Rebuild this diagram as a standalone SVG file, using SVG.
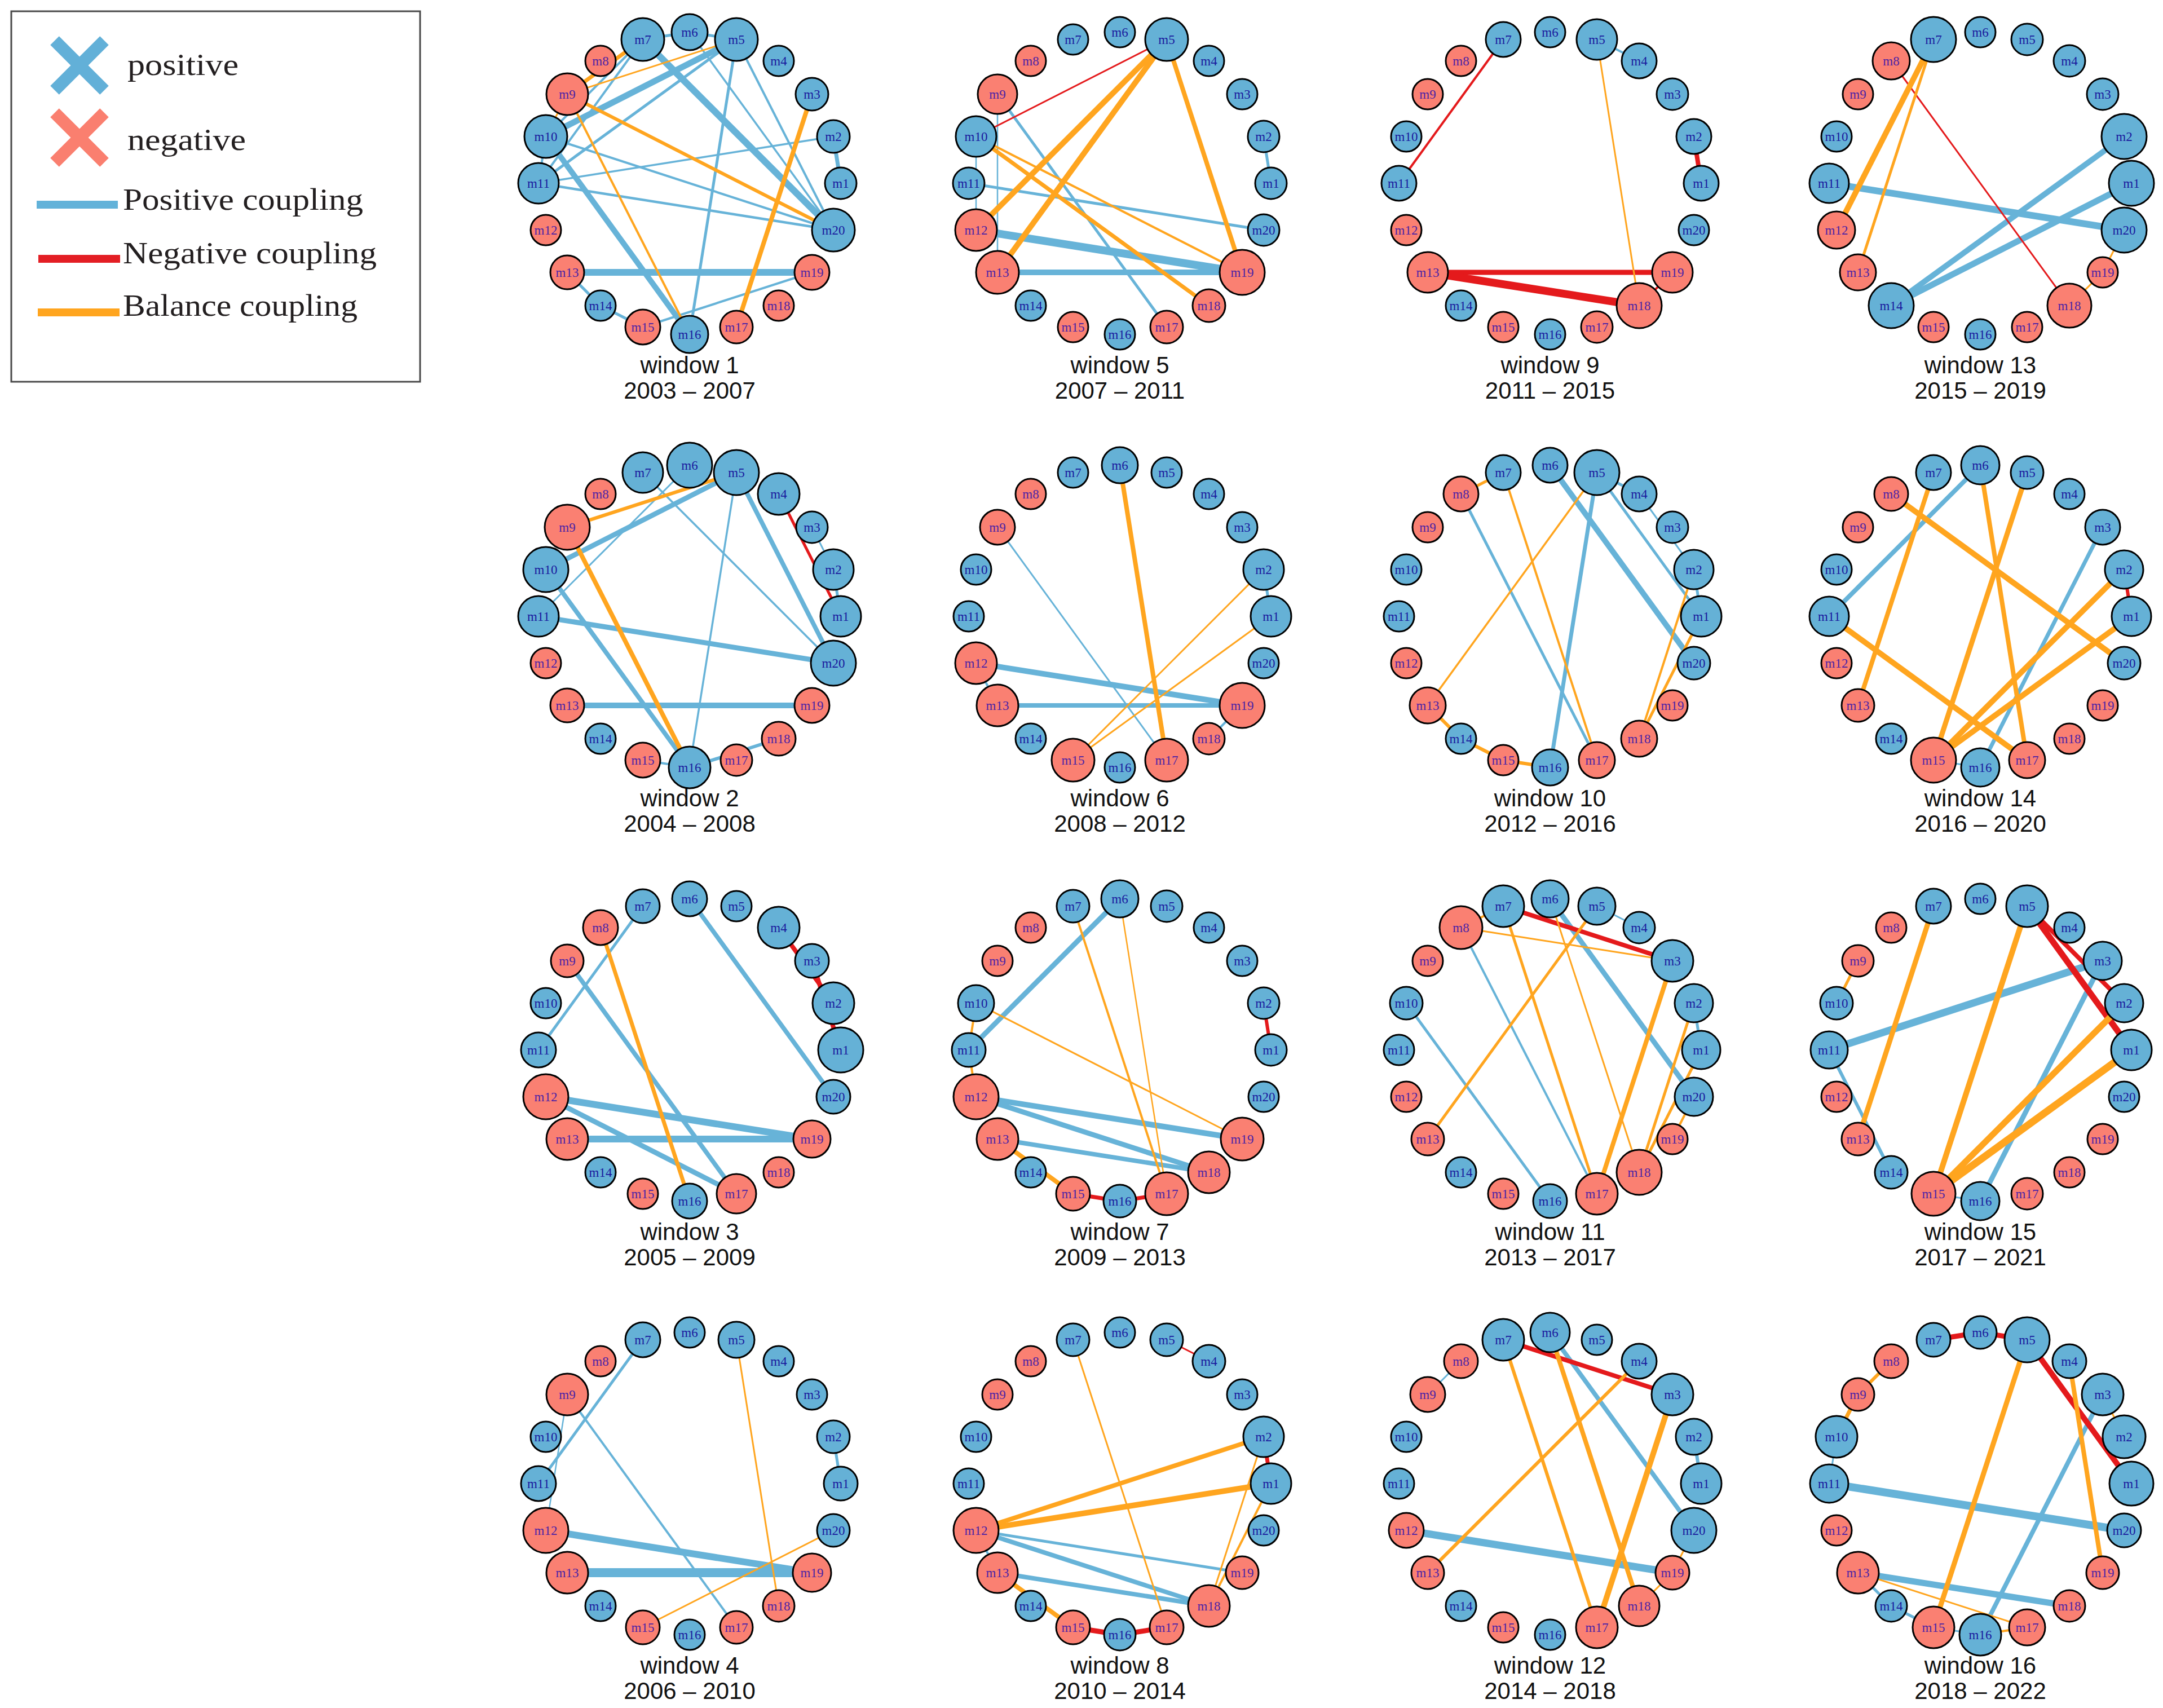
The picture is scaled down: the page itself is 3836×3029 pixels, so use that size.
<svg xmlns="http://www.w3.org/2000/svg" width="3836" height="3029" viewBox="0 0 3836 3029">
<style>
.eb{stroke:#67b3d8;fill:none}
.er{stroke:#e41a1c;fill:none}
.eo{stroke:#ffa51f;fill:none}
.nb circle{fill:#65b1d6;stroke:#000;stroke-width:3}
.nr circle{fill:#fa8072;stroke:#000;stroke-width:3}
.nb text,.nr text{font-family:'Liberation Serif','Times New Roman',serif;font-size:23px;text-anchor:middle}
.nb text{fill:#1a1a9e}
.nr text{fill:#4b22a6}
.t1,.t2{font-family:'Liberation Sans',Arial,sans-serif;font-size:42px;text-anchor:middle;fill:#111}
.lg{font-family:'Liberation Serif','Times New Roman',serif;font-size:54px;fill:#231f20}
</style>
<rect width="3836" height="3029" fill="#fff"/>
<g id="legend">
<rect x="20" y="20" width="725" height="657" fill="none" stroke="#4a4a4a" stroke-width="3"/>
<g stroke="#62b0d8" stroke-width="22"><line x1="97" y1="72" x2="185" y2="160"/><line x1="185" y1="72" x2="97" y2="160"/></g>
<g stroke="#fa7f6f" stroke-width="22"><line x1="97" y1="200" x2="185" y2="288"/><line x1="185" y1="200" x2="97" y2="288"/></g>
<text class="lg" x="226" y="133" textLength="197" lengthAdjust="spacingAndGlyphs">positive</text>
<text class="lg" x="226" y="266" textLength="210" lengthAdjust="spacingAndGlyphs">negative</text>
<line x1="65" y1="363" x2="209" y2="363" stroke="#62b2d9" stroke-width="14"/>
<line x1="68" y1="459" x2="213" y2="459" stroke="#e31e24" stroke-width="14"/>
<line x1="67" y1="554" x2="212" y2="554" stroke="#ffa51f" stroke-width="14"/>
<text class="lg" x="218" y="372" textLength="426" lengthAdjust="spacingAndGlyphs">Positive coupling</text>
<text class="lg" x="218" y="467" textLength="450" lengthAdjust="spacingAndGlyphs">Negative coupling</text>
<text class="lg" x="218" y="560" textLength="416" lengthAdjust="spacingAndGlyphs">Balance coupling</text>
</g>

<g id="window1" transform="translate(1223,325)">
<g id="w1-connectors">
<line class="eb" x1="-83" y1="-255" x2="0" y2="-268" stroke-width="5"/>
<line class="eb" x1="0" y1="-268" x2="83" y2="-255" stroke-width="5"/>
<line class="eb" x1="-83" y1="-255" x2="-255" y2="-83" stroke-width="4"/>
<line class="eb" x1="-83" y1="-255" x2="-268" y2="0" stroke-width="4"/>
<line class="eb" x1="83" y1="-255" x2="-255" y2="-83" stroke-width="11"/>
<line class="eb" x1="83" y1="-255" x2="-268" y2="0" stroke-width="5"/>
<line class="eb" x1="-83" y1="-255" x2="255" y2="83" stroke-width="12"/>
<line class="eb" x1="0" y1="-268" x2="255" y2="83" stroke-width="3.5"/>
<line class="eb" x1="83" y1="-255" x2="255" y2="83" stroke-width="4"/>
<line class="eb" x1="83" y1="-255" x2="0" y2="268" stroke-width="5"/>
<line class="eb" x1="-255" y1="-83" x2="-268" y2="0" stroke-width="4"/>
<line class="eb" x1="-255" y1="-83" x2="0" y2="268" stroke-width="10"/>
<line class="eb" x1="-255" y1="-83" x2="255" y2="83" stroke-width="4"/>
<line class="eb" x1="-268" y1="0" x2="255" y2="83" stroke-width="4.5"/>
<line class="eb" x1="-268" y1="0" x2="255" y2="-83" stroke-width="3.5"/>
<line class="eb" x1="255" y1="-83" x2="268" y2="0" stroke-width="7"/>
<line class="eb" x1="-217" y1="158" x2="217" y2="158" stroke-width="12"/>
<line class="eb" x1="-217" y1="158" x2="-158" y2="217" stroke-width="5"/>
<line class="eb" x1="-158" y1="217" x2="-83" y2="255" stroke-width="5"/>
<line class="eb" x1="-83" y1="255" x2="217" y2="158" stroke-width="4"/>
<line class="eo" x1="-217" y1="-158" x2="-83" y2="-255" stroke-width="7"/>
<line class="eo" x1="-217" y1="-158" x2="83" y2="-255" stroke-width="3"/>
<line class="eo" x1="-217" y1="-158" x2="255" y2="83" stroke-width="6"/>
<line class="eo" x1="-217" y1="-158" x2="0" y2="268" stroke-width="4"/>
<line class="eo" x1="-217" y1="-158" x2="-255" y2="-83" stroke-width="3"/>
<line class="eo" x1="217" y1="-158" x2="83" y2="255" stroke-width="8"/>
</g>
<g id="w1-m1" class="nb"><circle cx="268" cy="0" r="28"/><text x="268" y="8">m1</text></g>
<g id="w1-m2" class="nb"><circle cx="255" cy="-83" r="29"/><text x="255" y="-75">m2</text></g>
<g id="w1-m3" class="nb"><circle cx="217" cy="-158" r="29"/><text x="217" y="-150">m3</text></g>
<g id="w1-m4" class="nb"><circle cx="158" cy="-217" r="27"/><text x="158" y="-209">m4</text></g>
<g id="w1-m5" class="nb"><circle cx="83" cy="-255" r="38"/><text x="83" y="-247">m5</text></g>
<g id="w1-m6" class="nb"><circle cx="0" cy="-268" r="32"/><text x="0" y="-260">m6</text></g>
<g id="w1-m7" class="nb"><circle cx="-83" cy="-255" r="38"/><text x="-83" y="-247">m7</text></g>
<g id="w1-m8" class="nr"><circle cx="-158" cy="-217" r="27"/><text x="-158" y="-209">m8</text></g>
<g id="w1-m9" class="nr"><circle cx="-217" cy="-158" r="37"/><text x="-217" y="-150">m9</text></g>
<g id="w1-m10" class="nb"><circle cx="-255" cy="-83" r="38"/><text x="-255" y="-75">m10</text></g>
<g id="w1-m11" class="nb"><circle cx="-268" cy="0" r="36"/><text x="-268" y="8">m11</text></g>
<g id="w1-m12" class="nr"><circle cx="-255" cy="83" r="27"/><text x="-255" y="91">m12</text></g>
<g id="w1-m13" class="nr"><circle cx="-217" cy="158" r="30"/><text x="-217" y="166">m13</text></g>
<g id="w1-m14" class="nb"><circle cx="-158" cy="217" r="27"/><text x="-158" y="225">m14</text></g>
<g id="w1-m15" class="nr"><circle cx="-83" cy="255" r="31"/><text x="-83" y="263">m15</text></g>
<g id="w1-m16" class="nb"><circle cx="0" cy="268" r="33"/><text x="0" y="276">m16</text></g>
<g id="w1-m17" class="nr"><circle cx="83" cy="255" r="29"/><text x="83" y="263">m17</text></g>
<g id="w1-m18" class="nr"><circle cx="158" cy="217" r="27"/><text x="158" y="225">m18</text></g>
<g id="w1-m19" class="nr"><circle cx="217" cy="158" r="31"/><text x="217" y="166">m19</text></g>
<g id="w1-m20" class="nb"><circle cx="255" cy="83" r="38"/><text x="255" y="91">m20</text></g>
<text class="t1" x="0" y="337">window 1</text><text class="t2" x="0" y="382">2003 – 2007</text>
</g>

<g id="window2" transform="translate(1223,1093)">
<g id="w2-connectors">
<line class="eb" x1="-255" y1="-83" x2="83" y2="-255" stroke-width="9"/>
<line class="eb" x1="-268" y1="0" x2="0" y2="-268" stroke-width="3"/>
<line class="eb" x1="-83" y1="-255" x2="255" y2="83" stroke-width="3.5"/>
<line class="eb" x1="83" y1="-255" x2="255" y2="83" stroke-width="8"/>
<line class="eb" x1="83" y1="-255" x2="0" y2="268" stroke-width="3.5"/>
<line class="eb" x1="217" y1="-158" x2="255" y2="-83" stroke-width="3"/>
<line class="eb" x1="255" y1="-83" x2="268" y2="0" stroke-width="5"/>
<line class="eb" x1="-255" y1="-83" x2="0" y2="268" stroke-width="8"/>
<line class="eb" x1="-268" y1="0" x2="255" y2="83" stroke-width="9"/>
<line class="eb" x1="-217" y1="158" x2="217" y2="158" stroke-width="10"/>
<line class="eb" x1="0" y1="268" x2="158" y2="217" stroke-width="6"/>
<line class="eb" x1="-83" y1="255" x2="0" y2="268" stroke-width="4"/>
<line class="er" x1="158" y1="-217" x2="268" y2="0" stroke-width="5"/>
<line class="eo" x1="-217" y1="-158" x2="83" y2="-255" stroke-width="6"/>
<line class="eo" x1="-217" y1="-158" x2="0" y2="268" stroke-width="8"/>
</g>
<g id="w2-m1" class="nb"><circle cx="268" cy="0" r="36"/><text x="268" y="8">m1</text></g>
<g id="w2-m2" class="nb"><circle cx="255" cy="-83" r="36"/><text x="255" y="-75">m2</text></g>
<g id="w2-m3" class="nb"><circle cx="217" cy="-158" r="28"/><text x="217" y="-150">m3</text></g>
<g id="w2-m4" class="nb"><circle cx="158" cy="-217" r="37"/><text x="158" y="-209">m4</text></g>
<g id="w2-m5" class="nb"><circle cx="83" cy="-255" r="40"/><text x="83" y="-247">m5</text></g>
<g id="w2-m6" class="nb"><circle cx="0" cy="-268" r="40"/><text x="0" y="-260">m6</text></g>
<g id="w2-m7" class="nb"><circle cx="-83" cy="-255" r="36"/><text x="-83" y="-247">m7</text></g>
<g id="w2-m8" class="nr"><circle cx="-158" cy="-217" r="27"/><text x="-158" y="-209">m8</text></g>
<g id="w2-m9" class="nr"><circle cx="-217" cy="-158" r="40"/><text x="-217" y="-150">m9</text></g>
<g id="w2-m10" class="nb"><circle cx="-255" cy="-83" r="40"/><text x="-255" y="-75">m10</text></g>
<g id="w2-m11" class="nb"><circle cx="-268" cy="0" r="36"/><text x="-268" y="8">m11</text></g>
<g id="w2-m12" class="nr"><circle cx="-255" cy="83" r="27"/><text x="-255" y="91">m12</text></g>
<g id="w2-m13" class="nr"><circle cx="-217" cy="158" r="30"/><text x="-217" y="166">m13</text></g>
<g id="w2-m14" class="nb"><circle cx="-158" cy="217" r="27"/><text x="-158" y="225">m14</text></g>
<g id="w2-m15" class="nr"><circle cx="-83" cy="255" r="31"/><text x="-83" y="263">m15</text></g>
<g id="w2-m16" class="nb"><circle cx="0" cy="268" r="37"/><text x="0" y="276">m16</text></g>
<g id="w2-m17" class="nr"><circle cx="83" cy="255" r="28"/><text x="83" y="263">m17</text></g>
<g id="w2-m18" class="nr"><circle cx="158" cy="217" r="30"/><text x="158" y="225">m18</text></g>
<g id="w2-m19" class="nr"><circle cx="217" cy="158" r="31"/><text x="217" y="166">m19</text></g>
<g id="w2-m20" class="nb"><circle cx="255" cy="83" r="40"/><text x="255" y="91">m20</text></g>
<text class="t1" x="0" y="337">window 2</text><text class="t2" x="0" y="382">2004 – 2008</text>
</g>

<g id="window3" transform="translate(1223,1862)">
<g id="w3-connectors">
<line class="eb" x1="-83" y1="-255" x2="-268" y2="0" stroke-width="5"/>
<line class="eb" x1="-217" y1="-158" x2="83" y2="255" stroke-width="8"/>
<line class="eb" x1="0" y1="-268" x2="255" y2="83" stroke-width="8"/>
<line class="eb" x1="-255" y1="83" x2="217" y2="158" stroke-width="12"/>
<line class="eb" x1="-217" y1="158" x2="217" y2="158" stroke-width="12"/>
<line class="eb" x1="-255" y1="83" x2="83" y2="255" stroke-width="9"/>
<line class="er" x1="158" y1="-217" x2="255" y2="-83" stroke-width="8"/>
<line class="er" x1="217" y1="-158" x2="268" y2="0" stroke-width="8"/>
<line class="eo" x1="-158" y1="-217" x2="0" y2="268" stroke-width="7"/>
</g>
<g id="w3-m1" class="nb"><circle cx="268" cy="0" r="40"/><text x="268" y="8">m1</text></g>
<g id="w3-m2" class="nb"><circle cx="255" cy="-83" r="37"/><text x="255" y="-75">m2</text></g>
<g id="w3-m3" class="nb"><circle cx="217" cy="-158" r="30"/><text x="217" y="-150">m3</text></g>
<g id="w3-m4" class="nb"><circle cx="158" cy="-217" r="37"/><text x="158" y="-209">m4</text></g>
<g id="w3-m5" class="nb"><circle cx="83" cy="-255" r="27"/><text x="83" y="-247">m5</text></g>
<g id="w3-m6" class="nb"><circle cx="0" cy="-268" r="31"/><text x="0" y="-260">m6</text></g>
<g id="w3-m7" class="nb"><circle cx="-83" cy="-255" r="30"/><text x="-83" y="-247">m7</text></g>
<g id="w3-m8" class="nr"><circle cx="-158" cy="-217" r="31"/><text x="-158" y="-209">m8</text></g>
<g id="w3-m9" class="nr"><circle cx="-217" cy="-158" r="29"/><text x="-217" y="-150">m9</text></g>
<g id="w3-m10" class="nb"><circle cx="-255" cy="-83" r="27"/><text x="-255" y="-75">m10</text></g>
<g id="w3-m11" class="nb"><circle cx="-268" cy="0" r="31"/><text x="-268" y="8">m11</text></g>
<g id="w3-m12" class="nr"><circle cx="-255" cy="83" r="40"/><text x="-255" y="91">m12</text></g>
<g id="w3-m13" class="nr"><circle cx="-217" cy="158" r="37"/><text x="-217" y="166">m13</text></g>
<g id="w3-m14" class="nb"><circle cx="-158" cy="217" r="27"/><text x="-158" y="225">m14</text></g>
<g id="w3-m15" class="nr"><circle cx="-83" cy="255" r="27"/><text x="-83" y="263">m15</text></g>
<g id="w3-m16" class="nb"><circle cx="0" cy="268" r="31"/><text x="0" y="276">m16</text></g>
<g id="w3-m17" class="nr"><circle cx="83" cy="255" r="35"/><text x="83" y="263">m17</text></g>
<g id="w3-m18" class="nr"><circle cx="158" cy="217" r="27"/><text x="158" y="225">m18</text></g>
<g id="w3-m19" class="nr"><circle cx="217" cy="158" r="33"/><text x="217" y="166">m19</text></g>
<g id="w3-m20" class="nb"><circle cx="255" cy="83" r="30"/><text x="255" y="91">m20</text></g>
<text class="t1" x="0" y="337">window 3</text><text class="t2" x="0" y="382">2005 – 2009</text>
</g>

<g id="window4" transform="translate(1223,2631)">
<g id="w4-connectors">
<line class="eb" x1="-83" y1="-255" x2="-268" y2="0" stroke-width="5"/>
<line class="eb" x1="-217" y1="-158" x2="-255" y2="83" stroke-width="2.5"/>
<line class="eb" x1="-217" y1="-158" x2="83" y2="255" stroke-width="4"/>
<line class="eb" x1="-255" y1="83" x2="217" y2="158" stroke-width="12"/>
<line class="eb" x1="-217" y1="158" x2="217" y2="158" stroke-width="16"/>
<line class="eb" x1="255" y1="-83" x2="268" y2="0" stroke-width="5"/>
<line class="eo" x1="83" y1="-255" x2="158" y2="217" stroke-width="3"/>
<line class="eo" x1="255" y1="83" x2="-83" y2="255" stroke-width="3"/>
</g>
<g id="w4-m1" class="nb"><circle cx="268" cy="0" r="30"/><text x="268" y="8">m1</text></g>
<g id="w4-m2" class="nb"><circle cx="255" cy="-83" r="29"/><text x="255" y="-75">m2</text></g>
<g id="w4-m3" class="nb"><circle cx="217" cy="-158" r="27"/><text x="217" y="-150">m3</text></g>
<g id="w4-m4" class="nb"><circle cx="158" cy="-217" r="27"/><text x="158" y="-209">m4</text></g>
<g id="w4-m5" class="nb"><circle cx="83" cy="-255" r="32"/><text x="83" y="-247">m5</text></g>
<g id="w4-m6" class="nb"><circle cx="0" cy="-268" r="27"/><text x="0" y="-260">m6</text></g>
<g id="w4-m7" class="nb"><circle cx="-83" cy="-255" r="31"/><text x="-83" y="-247">m7</text></g>
<g id="w4-m8" class="nr"><circle cx="-158" cy="-217" r="27"/><text x="-158" y="-209">m8</text></g>
<g id="w4-m9" class="nr"><circle cx="-217" cy="-158" r="37"/><text x="-217" y="-150">m9</text></g>
<g id="w4-m10" class="nb"><circle cx="-255" cy="-83" r="27"/><text x="-255" y="-75">m10</text></g>
<g id="w4-m11" class="nb"><circle cx="-268" cy="0" r="31"/><text x="-268" y="8">m11</text></g>
<g id="w4-m12" class="nr"><circle cx="-255" cy="83" r="40"/><text x="-255" y="91">m12</text></g>
<g id="w4-m13" class="nr"><circle cx="-217" cy="158" r="37"/><text x="-217" y="166">m13</text></g>
<g id="w4-m14" class="nb"><circle cx="-158" cy="217" r="27"/><text x="-158" y="225">m14</text></g>
<g id="w4-m15" class="nr"><circle cx="-83" cy="255" r="30"/><text x="-83" y="263">m15</text></g>
<g id="w4-m16" class="nb"><circle cx="0" cy="268" r="27"/><text x="0" y="276">m16</text></g>
<g id="w4-m17" class="nr"><circle cx="83" cy="255" r="29"/><text x="83" y="263">m17</text></g>
<g id="w4-m18" class="nr"><circle cx="158" cy="217" r="28"/><text x="158" y="225">m18</text></g>
<g id="w4-m19" class="nr"><circle cx="217" cy="158" r="34"/><text x="217" y="166">m19</text></g>
<g id="w4-m20" class="nb"><circle cx="255" cy="83" r="29"/><text x="255" y="91">m20</text></g>
<text class="t1" x="0" y="337">window 4</text><text class="t2" x="0" y="382">2006 – 2010</text>
</g>

<g id="window5" transform="translate(1986,325)">
<g id="w5-connectors">
<line class="eb" x1="-217" y1="-158" x2="83" y2="255" stroke-width="5"/>
<line class="eb" x1="-217" y1="-158" x2="-217" y2="158" stroke-width="2.5"/>
<line class="eb" x1="-255" y1="-83" x2="-255" y2="83" stroke-width="2.5"/>
<line class="eb" x1="-268" y1="0" x2="255" y2="83" stroke-width="5"/>
<line class="eb" x1="-255" y1="83" x2="217" y2="158" stroke-width="14"/>
<line class="eb" x1="-217" y1="158" x2="217" y2="158" stroke-width="10"/>
<line class="eb" x1="255" y1="-83" x2="268" y2="0" stroke-width="5"/>
<line class="er" x1="83" y1="-255" x2="-255" y2="-83" stroke-width="3"/>
<line class="eo" x1="83" y1="-255" x2="-255" y2="83" stroke-width="10"/>
<line class="eo" x1="83" y1="-255" x2="-217" y2="158" stroke-width="10"/>
<line class="eo" x1="83" y1="-255" x2="217" y2="158" stroke-width="8"/>
<line class="eo" x1="-255" y1="-83" x2="217" y2="158" stroke-width="4"/>
<line class="eo" x1="-255" y1="-83" x2="158" y2="217" stroke-width="7"/>
</g>
<g id="w5-m1" class="nb"><circle cx="268" cy="0" r="28"/><text x="268" y="8">m1</text></g>
<g id="w5-m2" class="nb"><circle cx="255" cy="-83" r="28"/><text x="255" y="-75">m2</text></g>
<g id="w5-m3" class="nb"><circle cx="217" cy="-158" r="27"/><text x="217" y="-150">m3</text></g>
<g id="w5-m4" class="nb"><circle cx="158" cy="-217" r="27"/><text x="158" y="-209">m4</text></g>
<g id="w5-m5" class="nb"><circle cx="83" cy="-255" r="38"/><text x="83" y="-247">m5</text></g>
<g id="w5-m6" class="nb"><circle cx="0" cy="-268" r="27"/><text x="0" y="-260">m6</text></g>
<g id="w5-m7" class="nb"><circle cx="-83" cy="-255" r="27"/><text x="-83" y="-247">m7</text></g>
<g id="w5-m8" class="nr"><circle cx="-158" cy="-217" r="27"/><text x="-158" y="-209">m8</text></g>
<g id="w5-m9" class="nr"><circle cx="-217" cy="-158" r="35"/><text x="-217" y="-150">m9</text></g>
<g id="w5-m10" class="nb"><circle cx="-255" cy="-83" r="36"/><text x="-255" y="-75">m10</text></g>
<g id="w5-m11" class="nb"><circle cx="-268" cy="0" r="28"/><text x="-268" y="8">m11</text></g>
<g id="w5-m12" class="nr"><circle cx="-255" cy="83" r="37"/><text x="-255" y="91">m12</text></g>
<g id="w5-m13" class="nr"><circle cx="-217" cy="158" r="38"/><text x="-217" y="166">m13</text></g>
<g id="w5-m14" class="nb"><circle cx="-158" cy="217" r="27"/><text x="-158" y="225">m14</text></g>
<g id="w5-m15" class="nr"><circle cx="-83" cy="255" r="27"/><text x="-83" y="263">m15</text></g>
<g id="w5-m16" class="nb"><circle cx="0" cy="268" r="27"/><text x="0" y="276">m16</text></g>
<g id="w5-m17" class="nr"><circle cx="83" cy="255" r="29"/><text x="83" y="263">m17</text></g>
<g id="w5-m18" class="nr"><circle cx="158" cy="217" r="29"/><text x="158" y="225">m18</text></g>
<g id="w5-m19" class="nr"><circle cx="217" cy="158" r="40"/><text x="217" y="166">m19</text></g>
<g id="w5-m20" class="nb"><circle cx="255" cy="83" r="28"/><text x="255" y="91">m20</text></g>
<text class="t1" x="0" y="337">window 5</text><text class="t2" x="0" y="382">2007 – 2011</text>
</g>

<g id="window6" transform="translate(1986,1093)">
<g id="w6-connectors">
<line class="eb" x1="-217" y1="-158" x2="83" y2="255" stroke-width="3"/>
<line class="eb" x1="-255" y1="83" x2="217" y2="158" stroke-width="10"/>
<line class="eb" x1="-217" y1="158" x2="217" y2="158" stroke-width="8"/>
<line class="eb" x1="-255" y1="83" x2="-217" y2="158" stroke-width="4"/>
<line class="eb" x1="217" y1="158" x2="158" y2="217" stroke-width="4"/>
<line class="eb" x1="255" y1="-83" x2="268" y2="0" stroke-width="5"/>
<line class="eo" x1="0" y1="-268" x2="83" y2="255" stroke-width="8"/>
<line class="eo" x1="-83" y1="255" x2="255" y2="-83" stroke-width="3"/>
<line class="eo" x1="-83" y1="255" x2="268" y2="0" stroke-width="3"/>
</g>
<g id="w6-m1" class="nb"><circle cx="268" cy="0" r="36"/><text x="268" y="8">m1</text></g>
<g id="w6-m2" class="nb"><circle cx="255" cy="-83" r="36"/><text x="255" y="-75">m2</text></g>
<g id="w6-m3" class="nb"><circle cx="217" cy="-158" r="27"/><text x="217" y="-150">m3</text></g>
<g id="w6-m4" class="nb"><circle cx="158" cy="-217" r="27"/><text x="158" y="-209">m4</text></g>
<g id="w6-m5" class="nb"><circle cx="83" cy="-255" r="27"/><text x="83" y="-247">m5</text></g>
<g id="w6-m6" class="nb"><circle cx="0" cy="-268" r="32"/><text x="0" y="-260">m6</text></g>
<g id="w6-m7" class="nb"><circle cx="-83" cy="-255" r="27"/><text x="-83" y="-247">m7</text></g>
<g id="w6-m8" class="nr"><circle cx="-158" cy="-217" r="27"/><text x="-158" y="-209">m8</text></g>
<g id="w6-m9" class="nr"><circle cx="-217" cy="-158" r="31"/><text x="-217" y="-150">m9</text></g>
<g id="w6-m10" class="nb"><circle cx="-255" cy="-83" r="27"/><text x="-255" y="-75">m10</text></g>
<g id="w6-m11" class="nb"><circle cx="-268" cy="0" r="27"/><text x="-268" y="8">m11</text></g>
<g id="w6-m12" class="nr"><circle cx="-255" cy="83" r="37"/><text x="-255" y="91">m12</text></g>
<g id="w6-m13" class="nr"><circle cx="-217" cy="158" r="37"/><text x="-217" y="166">m13</text></g>
<g id="w6-m14" class="nb"><circle cx="-158" cy="217" r="27"/><text x="-158" y="225">m14</text></g>
<g id="w6-m15" class="nr"><circle cx="-83" cy="255" r="38"/><text x="-83" y="263">m15</text></g>
<g id="w6-m16" class="nb"><circle cx="0" cy="268" r="27"/><text x="0" y="276">m16</text></g>
<g id="w6-m17" class="nr"><circle cx="83" cy="255" r="38"/><text x="83" y="263">m17</text></g>
<g id="w6-m18" class="nr"><circle cx="158" cy="217" r="28"/><text x="158" y="225">m18</text></g>
<g id="w6-m19" class="nr"><circle cx="217" cy="158" r="40"/><text x="217" y="166">m19</text></g>
<g id="w6-m20" class="nb"><circle cx="255" cy="83" r="27"/><text x="255" y="91">m20</text></g>
<text class="t1" x="0" y="337">window 6</text><text class="t2" x="0" y="382">2008 – 2012</text>
</g>

<g id="window7" transform="translate(1986,1862)">
<g id="w7-connectors">
<line class="eb" x1="0" y1="-268" x2="-268" y2="0" stroke-width="9"/>
<line class="eb" x1="-255" y1="83" x2="217" y2="158" stroke-width="10"/>
<line class="eb" x1="-255" y1="83" x2="158" y2="217" stroke-width="9"/>
<line class="eb" x1="-217" y1="158" x2="158" y2="217" stroke-width="8"/>
<line class="er" x1="255" y1="-83" x2="268" y2="0" stroke-width="6"/>
<line class="er" x1="-83" y1="255" x2="0" y2="268" stroke-width="7"/>
<line class="er" x1="0" y1="268" x2="83" y2="255" stroke-width="7"/>
<line class="eo" x1="-83" y1="-255" x2="83" y2="255" stroke-width="4"/>
<line class="eo" x1="0" y1="-268" x2="83" y2="255" stroke-width="2.5"/>
<line class="eo" x1="-255" y1="-83" x2="217" y2="158" stroke-width="3"/>
<line class="eo" x1="-255" y1="-83" x2="-268" y2="0" stroke-width="4"/>
<line class="eo" x1="-268" y1="0" x2="-255" y2="83" stroke-width="4"/>
<line class="eo" x1="-217" y1="158" x2="-83" y2="255" stroke-width="8"/>
</g>
<g id="w7-m1" class="nb"><circle cx="268" cy="0" r="28"/><text x="268" y="8">m1</text></g>
<g id="w7-m2" class="nb"><circle cx="255" cy="-83" r="28"/><text x="255" y="-75">m2</text></g>
<g id="w7-m3" class="nb"><circle cx="217" cy="-158" r="27"/><text x="217" y="-150">m3</text></g>
<g id="w7-m4" class="nb"><circle cx="158" cy="-217" r="27"/><text x="158" y="-209">m4</text></g>
<g id="w7-m5" class="nb"><circle cx="83" cy="-255" r="28"/><text x="83" y="-247">m5</text></g>
<g id="w7-m6" class="nb"><circle cx="0" cy="-268" r="33"/><text x="0" y="-260">m6</text></g>
<g id="w7-m7" class="nb"><circle cx="-83" cy="-255" r="29"/><text x="-83" y="-247">m7</text></g>
<g id="w7-m8" class="nr"><circle cx="-158" cy="-217" r="27"/><text x="-158" y="-209">m8</text></g>
<g id="w7-m9" class="nr"><circle cx="-217" cy="-158" r="27"/><text x="-217" y="-150">m9</text></g>
<g id="w7-m10" class="nb"><circle cx="-255" cy="-83" r="32"/><text x="-255" y="-75">m10</text></g>
<g id="w7-m11" class="nb"><circle cx="-268" cy="0" r="30"/><text x="-268" y="8">m11</text></g>
<g id="w7-m12" class="nr"><circle cx="-255" cy="83" r="40"/><text x="-255" y="91">m12</text></g>
<g id="w7-m13" class="nr"><circle cx="-217" cy="158" r="37"/><text x="-217" y="166">m13</text></g>
<g id="w7-m14" class="nb"><circle cx="-158" cy="217" r="27"/><text x="-158" y="225">m14</text></g>
<g id="w7-m15" class="nr"><circle cx="-83" cy="255" r="30"/><text x="-83" y="263">m15</text></g>
<g id="w7-m16" class="nb"><circle cx="0" cy="268" r="29"/><text x="0" y="276">m16</text></g>
<g id="w7-m17" class="nr"><circle cx="83" cy="255" r="38"/><text x="83" y="263">m17</text></g>
<g id="w7-m18" class="nr"><circle cx="158" cy="217" r="37"/><text x="158" y="225">m18</text></g>
<g id="w7-m19" class="nr"><circle cx="217" cy="158" r="38"/><text x="217" y="166">m19</text></g>
<g id="w7-m20" class="nb"><circle cx="255" cy="83" r="27"/><text x="255" y="91">m20</text></g>
<text class="t1" x="0" y="337">window 7</text><text class="t2" x="0" y="382">2009 – 2013</text>
</g>

<g id="window8" transform="translate(1986,2631)">
<g id="w8-connectors">
<line class="eb" x1="-255" y1="83" x2="217" y2="158" stroke-width="5"/>
<line class="eb" x1="-255" y1="83" x2="158" y2="217" stroke-width="8"/>
<line class="eb" x1="-217" y1="158" x2="158" y2="217" stroke-width="8"/>
<line class="eb" x1="-255" y1="83" x2="-217" y2="158" stroke-width="4"/>
<line class="er" x1="83" y1="-255" x2="158" y2="-217" stroke-width="3"/>
<line class="er" x1="-83" y1="255" x2="0" y2="268" stroke-width="9"/>
<line class="er" x1="0" y1="268" x2="83" y2="255" stroke-width="9"/>
<line class="er" x1="255" y1="-83" x2="268" y2="0" stroke-width="7"/>
<line class="eo" x1="-83" y1="-255" x2="83" y2="255" stroke-width="3"/>
<line class="eo" x1="-255" y1="83" x2="255" y2="-83" stroke-width="8"/>
<line class="eo" x1="-255" y1="83" x2="268" y2="0" stroke-width="10"/>
<line class="eo" x1="-217" y1="158" x2="-83" y2="255" stroke-width="8"/>
<line class="eo" x1="255" y1="-83" x2="158" y2="217" stroke-width="3"/>
<line class="eo" x1="268" y1="0" x2="158" y2="217" stroke-width="4"/>
</g>
<g id="w8-m1" class="nb"><circle cx="268" cy="0" r="36"/><text x="268" y="8">m1</text></g>
<g id="w8-m2" class="nb"><circle cx="255" cy="-83" r="36"/><text x="255" y="-75">m2</text></g>
<g id="w8-m3" class="nb"><circle cx="217" cy="-158" r="27"/><text x="217" y="-150">m3</text></g>
<g id="w8-m4" class="nb"><circle cx="158" cy="-217" r="29"/><text x="158" y="-209">m4</text></g>
<g id="w8-m5" class="nb"><circle cx="83" cy="-255" r="29"/><text x="83" y="-247">m5</text></g>
<g id="w8-m6" class="nb"><circle cx="0" cy="-268" r="27"/><text x="0" y="-260">m6</text></g>
<g id="w8-m7" class="nb"><circle cx="-83" cy="-255" r="29"/><text x="-83" y="-247">m7</text></g>
<g id="w8-m8" class="nr"><circle cx="-158" cy="-217" r="27"/><text x="-158" y="-209">m8</text></g>
<g id="w8-m9" class="nr"><circle cx="-217" cy="-158" r="27"/><text x="-217" y="-150">m9</text></g>
<g id="w8-m10" class="nb"><circle cx="-255" cy="-83" r="27"/><text x="-255" y="-75">m10</text></g>
<g id="w8-m11" class="nb"><circle cx="-268" cy="0" r="27"/><text x="-268" y="8">m11</text></g>
<g id="w8-m12" class="nr"><circle cx="-255" cy="83" r="40"/><text x="-255" y="91">m12</text></g>
<g id="w8-m13" class="nr"><circle cx="-217" cy="158" r="36"/><text x="-217" y="166">m13</text></g>
<g id="w8-m14" class="nb"><circle cx="-158" cy="217" r="27"/><text x="-158" y="225">m14</text></g>
<g id="w8-m15" class="nr"><circle cx="-83" cy="255" r="30"/><text x="-83" y="263">m15</text></g>
<g id="w8-m16" class="nb"><circle cx="0" cy="268" r="28"/><text x="0" y="276">m16</text></g>
<g id="w8-m17" class="nr"><circle cx="83" cy="255" r="30"/><text x="83" y="263">m17</text></g>
<g id="w8-m18" class="nr"><circle cx="158" cy="217" r="37"/><text x="158" y="225">m18</text></g>
<g id="w8-m19" class="nr"><circle cx="217" cy="158" r="29"/><text x="217" y="166">m19</text></g>
<g id="w8-m20" class="nb"><circle cx="255" cy="83" r="27"/><text x="255" y="91">m20</text></g>
<text class="t1" x="0" y="337">window 8</text><text class="t2" x="0" y="382">2010 – 2014</text>
</g>

<g id="window9" transform="translate(2749,325)">
<g id="w9-connectors">
<line class="eb" x1="83" y1="-255" x2="158" y2="-217" stroke-width="4"/>
<line class="er" x1="-83" y1="-255" x2="-268" y2="0" stroke-width="4"/>
<line class="er" x1="255" y1="-83" x2="268" y2="0" stroke-width="8"/>
<line class="er" x1="-217" y1="158" x2="217" y2="158" stroke-width="9"/>
<line class="er" x1="-217" y1="158" x2="158" y2="217" stroke-width="14"/>
<line class="er" x1="217" y1="158" x2="158" y2="217" stroke-width="4"/>
<line class="eo" x1="83" y1="-255" x2="158" y2="217" stroke-width="3"/>
</g>
<g id="w9-m1" class="nb"><circle cx="268" cy="0" r="31"/><text x="268" y="8">m1</text></g>
<g id="w9-m2" class="nb"><circle cx="255" cy="-83" r="31"/><text x="255" y="-75">m2</text></g>
<g id="w9-m3" class="nb"><circle cx="217" cy="-158" r="28"/><text x="217" y="-150">m3</text></g>
<g id="w9-m4" class="nb"><circle cx="158" cy="-217" r="31"/><text x="158" y="-209">m4</text></g>
<g id="w9-m5" class="nb"><circle cx="83" cy="-255" r="36"/><text x="83" y="-247">m5</text></g>
<g id="w9-m6" class="nb"><circle cx="0" cy="-268" r="27"/><text x="0" y="-260">m6</text></g>
<g id="w9-m7" class="nb"><circle cx="-83" cy="-255" r="31"/><text x="-83" y="-247">m7</text></g>
<g id="w9-m8" class="nr"><circle cx="-158" cy="-217" r="27"/><text x="-158" y="-209">m8</text></g>
<g id="w9-m9" class="nr"><circle cx="-217" cy="-158" r="27"/><text x="-217" y="-150">m9</text></g>
<g id="w9-m10" class="nb"><circle cx="-255" cy="-83" r="27"/><text x="-255" y="-75">m10</text></g>
<g id="w9-m11" class="nb"><circle cx="-268" cy="0" r="31"/><text x="-268" y="8">m11</text></g>
<g id="w9-m12" class="nr"><circle cx="-255" cy="83" r="27"/><text x="-255" y="91">m12</text></g>
<g id="w9-m13" class="nr"><circle cx="-217" cy="158" r="36"/><text x="-217" y="166">m13</text></g>
<g id="w9-m14" class="nb"><circle cx="-158" cy="217" r="27"/><text x="-158" y="225">m14</text></g>
<g id="w9-m15" class="nr"><circle cx="-83" cy="255" r="27"/><text x="-83" y="263">m15</text></g>
<g id="w9-m16" class="nb"><circle cx="0" cy="268" r="27"/><text x="0" y="276">m16</text></g>
<g id="w9-m17" class="nr"><circle cx="83" cy="255" r="28"/><text x="83" y="263">m17</text></g>
<g id="w9-m18" class="nr"><circle cx="158" cy="217" r="40"/><text x="158" y="225">m18</text></g>
<g id="w9-m19" class="nr"><circle cx="217" cy="158" r="36"/><text x="217" y="166">m19</text></g>
<g id="w9-m20" class="nb"><circle cx="255" cy="83" r="27"/><text x="255" y="91">m20</text></g>
<text class="t1" x="0" y="337">window 9</text><text class="t2" x="0" y="382">2011 – 2015</text>
</g>

<g id="window10" transform="translate(2749,1093)">
<g id="w10-connectors">
<line class="eb" x1="-158" y1="-217" x2="83" y2="255" stroke-width="5"/>
<line class="eb" x1="83" y1="-255" x2="0" y2="268" stroke-width="7"/>
<line class="eb" x1="0" y1="-268" x2="255" y2="83" stroke-width="10"/>
<line class="eb" x1="83" y1="-255" x2="158" y2="-217" stroke-width="5"/>
<line class="eb" x1="83" y1="-255" x2="268" y2="0" stroke-width="5"/>
<line class="eb" x1="158" y1="-217" x2="255" y2="-83" stroke-width="3"/>
<line class="eb" x1="255" y1="-83" x2="268" y2="0" stroke-width="5"/>
<line class="eo" x1="-158" y1="-217" x2="-83" y2="-255" stroke-width="5"/>
<line class="eo" x1="-83" y1="-255" x2="83" y2="255" stroke-width="4"/>
<line class="eo" x1="-217" y1="158" x2="83" y2="-255" stroke-width="3.5"/>
<line class="eo" x1="-217" y1="158" x2="-158" y2="217" stroke-width="6"/>
<line class="eo" x1="-158" y1="217" x2="-83" y2="255" stroke-width="6"/>
<line class="eo" x1="-83" y1="255" x2="0" y2="268" stroke-width="6"/>
<line class="eo" x1="255" y1="-83" x2="158" y2="217" stroke-width="4"/>
<line class="eo" x1="268" y1="0" x2="158" y2="217" stroke-width="5"/>
</g>
<g id="w10-m1" class="nb"><circle cx="268" cy="0" r="36"/><text x="268" y="8">m1</text></g>
<g id="w10-m2" class="nb"><circle cx="255" cy="-83" r="35"/><text x="255" y="-75">m2</text></g>
<g id="w10-m3" class="nb"><circle cx="217" cy="-158" r="28"/><text x="217" y="-150">m3</text></g>
<g id="w10-m4" class="nb"><circle cx="158" cy="-217" r="31"/><text x="158" y="-209">m4</text></g>
<g id="w10-m5" class="nb"><circle cx="83" cy="-255" r="40"/><text x="83" y="-247">m5</text></g>
<g id="w10-m6" class="nb"><circle cx="0" cy="-268" r="31"/><text x="0" y="-260">m6</text></g>
<g id="w10-m7" class="nb"><circle cx="-83" cy="-255" r="31"/><text x="-83" y="-247">m7</text></g>
<g id="w10-m8" class="nr"><circle cx="-158" cy="-217" r="31"/><text x="-158" y="-209">m8</text></g>
<g id="w10-m9" class="nr"><circle cx="-217" cy="-158" r="27"/><text x="-217" y="-150">m9</text></g>
<g id="w10-m10" class="nb"><circle cx="-255" cy="-83" r="27"/><text x="-255" y="-75">m10</text></g>
<g id="w10-m11" class="nb"><circle cx="-268" cy="0" r="27"/><text x="-268" y="8">m11</text></g>
<g id="w10-m12" class="nr"><circle cx="-255" cy="83" r="27"/><text x="-255" y="91">m12</text></g>
<g id="w10-m13" class="nr"><circle cx="-217" cy="158" r="32"/><text x="-217" y="166">m13</text></g>
<g id="w10-m14" class="nb"><circle cx="-158" cy="217" r="27"/><text x="-158" y="225">m14</text></g>
<g id="w10-m15" class="nr"><circle cx="-83" cy="255" r="27"/><text x="-83" y="263">m15</text></g>
<g id="w10-m16" class="nb"><circle cx="0" cy="268" r="32"/><text x="0" y="276">m16</text></g>
<g id="w10-m17" class="nr"><circle cx="83" cy="255" r="32"/><text x="83" y="263">m17</text></g>
<g id="w10-m18" class="nr"><circle cx="158" cy="217" r="32"/><text x="158" y="225">m18</text></g>
<g id="w10-m19" class="nr"><circle cx="217" cy="158" r="27"/><text x="217" y="166">m19</text></g>
<g id="w10-m20" class="nb"><circle cx="255" cy="83" r="29"/><text x="255" y="91">m20</text></g>
<text class="t1" x="0" y="337">window 10</text><text class="t2" x="0" y="382">2012 – 2016</text>
</g>

<g id="window11" transform="translate(2749,1862)">
<g id="w11-connectors">
<line class="eb" x1="-158" y1="-217" x2="83" y2="255" stroke-width="4"/>
<line class="eb" x1="-255" y1="-83" x2="0" y2="268" stroke-width="5"/>
<line class="eb" x1="0" y1="-268" x2="255" y2="83" stroke-width="9"/>
<line class="eb" x1="83" y1="-255" x2="158" y2="-217" stroke-width="3"/>
<line class="eb" x1="255" y1="-83" x2="268" y2="0" stroke-width="5"/>
<line class="er" x1="-83" y1="-255" x2="217" y2="-158" stroke-width="8"/>
<line class="eo" x1="-158" y1="-217" x2="-83" y2="-255" stroke-width="4"/>
<line class="eo" x1="-158" y1="-217" x2="217" y2="-158" stroke-width="3"/>
<line class="eo" x1="-83" y1="-255" x2="83" y2="255" stroke-width="5"/>
<line class="eo" x1="0" y1="-268" x2="158" y2="217" stroke-width="3"/>
<line class="eo" x1="-217" y1="158" x2="83" y2="-255" stroke-width="5"/>
<line class="eo" x1="217" y1="-158" x2="83" y2="255" stroke-width="8"/>
<line class="eo" x1="255" y1="-83" x2="158" y2="217" stroke-width="5"/>
<line class="eo" x1="268" y1="0" x2="158" y2="217" stroke-width="5"/>
<line class="eo" x1="255" y1="83" x2="217" y2="158" stroke-width="4"/>
</g>
<g id="w11-m1" class="nb"><circle cx="268" cy="0" r="34"/><text x="268" y="8">m1</text></g>
<g id="w11-m2" class="nb"><circle cx="255" cy="-83" r="34"/><text x="255" y="-75">m2</text></g>
<g id="w11-m3" class="nb"><circle cx="217" cy="-158" r="37"/><text x="217" y="-150">m3</text></g>
<g id="w11-m4" class="nb"><circle cx="158" cy="-217" r="28"/><text x="158" y="-209">m4</text></g>
<g id="w11-m5" class="nb"><circle cx="83" cy="-255" r="33"/><text x="83" y="-247">m5</text></g>
<g id="w11-m6" class="nb"><circle cx="0" cy="-268" r="33"/><text x="0" y="-260">m6</text></g>
<g id="w11-m7" class="nb"><circle cx="-83" cy="-255" r="37"/><text x="-83" y="-247">m7</text></g>
<g id="w11-m8" class="nr"><circle cx="-158" cy="-217" r="38"/><text x="-158" y="-209">m8</text></g>
<g id="w11-m9" class="nr"><circle cx="-217" cy="-158" r="27"/><text x="-217" y="-150">m9</text></g>
<g id="w11-m10" class="nb"><circle cx="-255" cy="-83" r="29"/><text x="-255" y="-75">m10</text></g>
<g id="w11-m11" class="nb"><circle cx="-268" cy="0" r="27"/><text x="-268" y="8">m11</text></g>
<g id="w11-m12" class="nr"><circle cx="-255" cy="83" r="27"/><text x="-255" y="91">m12</text></g>
<g id="w11-m13" class="nr"><circle cx="-217" cy="158" r="29"/><text x="-217" y="166">m13</text></g>
<g id="w11-m14" class="nb"><circle cx="-158" cy="217" r="27"/><text x="-158" y="225">m14</text></g>
<g id="w11-m15" class="nr"><circle cx="-83" cy="255" r="27"/><text x="-83" y="263">m15</text></g>
<g id="w11-m16" class="nb"><circle cx="0" cy="268" r="30"/><text x="0" y="276">m16</text></g>
<g id="w11-m17" class="nr"><circle cx="83" cy="255" r="37"/><text x="83" y="263">m17</text></g>
<g id="w11-m18" class="nr"><circle cx="158" cy="217" r="40"/><text x="158" y="225">m18</text></g>
<g id="w11-m19" class="nr"><circle cx="217" cy="158" r="27"/><text x="217" y="166">m19</text></g>
<g id="w11-m20" class="nb"><circle cx="255" cy="83" r="34"/><text x="255" y="91">m20</text></g>
<text class="t1" x="0" y="337">window 11</text><text class="t2" x="0" y="382">2013 – 2017</text>
</g>

<g id="window12" transform="translate(2749,2631)">
<g id="w12-connectors">
<line class="eb" x1="-158" y1="-217" x2="-217" y2="-158" stroke-width="3"/>
<line class="eb" x1="0" y1="-268" x2="255" y2="83" stroke-width="8"/>
<line class="eb" x1="255" y1="-83" x2="268" y2="0" stroke-width="6"/>
<line class="eb" x1="-255" y1="83" x2="217" y2="158" stroke-width="13"/>
<line class="er" x1="-83" y1="-255" x2="217" y2="-158" stroke-width="8"/>
<line class="eo" x1="-83" y1="-255" x2="83" y2="255" stroke-width="6"/>
<line class="eo" x1="0" y1="-268" x2="158" y2="217" stroke-width="8"/>
<line class="eo" x1="158" y1="-217" x2="-217" y2="158" stroke-width="6"/>
<line class="eo" x1="217" y1="-158" x2="83" y2="255" stroke-width="10"/>
<line class="eo" x1="255" y1="83" x2="217" y2="158" stroke-width="3"/>
<line class="eo" x1="217" y1="158" x2="158" y2="217" stroke-width="3"/>
</g>
<g id="w12-m1" class="nb"><circle cx="268" cy="0" r="36"/><text x="268" y="8">m1</text></g>
<g id="w12-m2" class="nb"><circle cx="255" cy="-83" r="32"/><text x="255" y="-75">m2</text></g>
<g id="w12-m3" class="nb"><circle cx="217" cy="-158" r="37"/><text x="217" y="-150">m3</text></g>
<g id="w12-m4" class="nb"><circle cx="158" cy="-217" r="31"/><text x="158" y="-209">m4</text></g>
<g id="w12-m5" class="nb"><circle cx="83" cy="-255" r="27"/><text x="83" y="-247">m5</text></g>
<g id="w12-m6" class="nb"><circle cx="0" cy="-268" r="35"/><text x="0" y="-260">m6</text></g>
<g id="w12-m7" class="nb"><circle cx="-83" cy="-255" r="37"/><text x="-83" y="-247">m7</text></g>
<g id="w12-m8" class="nr"><circle cx="-158" cy="-217" r="30"/><text x="-158" y="-209">m8</text></g>
<g id="w12-m9" class="nr"><circle cx="-217" cy="-158" r="31"/><text x="-217" y="-150">m9</text></g>
<g id="w12-m10" class="nb"><circle cx="-255" cy="-83" r="27"/><text x="-255" y="-75">m10</text></g>
<g id="w12-m11" class="nb"><circle cx="-268" cy="0" r="27"/><text x="-268" y="8">m11</text></g>
<g id="w12-m12" class="nr"><circle cx="-255" cy="83" r="31"/><text x="-255" y="91">m12</text></g>
<g id="w12-m13" class="nr"><circle cx="-217" cy="158" r="29"/><text x="-217" y="166">m13</text></g>
<g id="w12-m14" class="nb"><circle cx="-158" cy="217" r="27"/><text x="-158" y="225">m14</text></g>
<g id="w12-m15" class="nr"><circle cx="-83" cy="255" r="27"/><text x="-83" y="263">m15</text></g>
<g id="w12-m16" class="nb"><circle cx="0" cy="268" r="27"/><text x="0" y="276">m16</text></g>
<g id="w12-m17" class="nr"><circle cx="83" cy="255" r="37"/><text x="83" y="263">m17</text></g>
<g id="w12-m18" class="nr"><circle cx="158" cy="217" r="36"/><text x="158" y="225">m18</text></g>
<g id="w12-m19" class="nr"><circle cx="217" cy="158" r="30"/><text x="217" y="166">m19</text></g>
<g id="w12-m20" class="nb"><circle cx="255" cy="83" r="40"/><text x="255" y="91">m20</text></g>
<text class="t1" x="0" y="337">window 12</text><text class="t2" x="0" y="382">2014 – 2018</text>
</g>

<g id="window13" transform="translate(3512,325)">
<g id="w13-connectors">
<line class="eb" x1="-268" y1="0" x2="255" y2="83" stroke-width="12"/>
<line class="eb" x1="-158" y1="217" x2="255" y2="-83" stroke-width="10"/>
<line class="eb" x1="-158" y1="217" x2="268" y2="0" stroke-width="11"/>
<line class="er" x1="-158" y1="-217" x2="158" y2="217" stroke-width="3"/>
<line class="eo" x1="-83" y1="-255" x2="-255" y2="83" stroke-width="10"/>
<line class="eo" x1="-83" y1="-255" x2="-217" y2="158" stroke-width="5"/>
<line class="eo" x1="255" y1="83" x2="217" y2="158" stroke-width="3"/>
<line class="eo" x1="217" y1="158" x2="158" y2="217" stroke-width="3"/>
</g>
<g id="w13-m1" class="nb"><circle cx="268" cy="0" r="40"/><text x="268" y="8">m1</text></g>
<g id="w13-m2" class="nb"><circle cx="255" cy="-83" r="40"/><text x="255" y="-75">m2</text></g>
<g id="w13-m3" class="nb"><circle cx="217" cy="-158" r="28"/><text x="217" y="-150">m3</text></g>
<g id="w13-m4" class="nb"><circle cx="158" cy="-217" r="28"/><text x="158" y="-209">m4</text></g>
<g id="w13-m5" class="nb"><circle cx="83" cy="-255" r="28"/><text x="83" y="-247">m5</text></g>
<g id="w13-m6" class="nb"><circle cx="0" cy="-268" r="27"/><text x="0" y="-260">m6</text></g>
<g id="w13-m7" class="nb"><circle cx="-83" cy="-255" r="40"/><text x="-83" y="-247">m7</text></g>
<g id="w13-m8" class="nr"><circle cx="-158" cy="-217" r="33"/><text x="-158" y="-209">m8</text></g>
<g id="w13-m9" class="nr"><circle cx="-217" cy="-158" r="27"/><text x="-217" y="-150">m9</text></g>
<g id="w13-m10" class="nb"><circle cx="-255" cy="-83" r="27"/><text x="-255" y="-75">m10</text></g>
<g id="w13-m11" class="nb"><circle cx="-268" cy="0" r="35"/><text x="-268" y="8">m11</text></g>
<g id="w13-m12" class="nr"><circle cx="-255" cy="83" r="33"/><text x="-255" y="91">m12</text></g>
<g id="w13-m13" class="nr"><circle cx="-217" cy="158" r="32"/><text x="-217" y="166">m13</text></g>
<g id="w13-m14" class="nb"><circle cx="-158" cy="217" r="40"/><text x="-158" y="225">m14</text></g>
<g id="w13-m15" class="nr"><circle cx="-83" cy="255" r="27"/><text x="-83" y="263">m15</text></g>
<g id="w13-m16" class="nb"><circle cx="0" cy="268" r="27"/><text x="0" y="276">m16</text></g>
<g id="w13-m17" class="nr"><circle cx="83" cy="255" r="27"/><text x="83" y="263">m17</text></g>
<g id="w13-m18" class="nr"><circle cx="158" cy="217" r="39"/><text x="158" y="225">m18</text></g>
<g id="w13-m19" class="nr"><circle cx="217" cy="158" r="27"/><text x="217" y="166">m19</text></g>
<g id="w13-m20" class="nb"><circle cx="255" cy="83" r="40"/><text x="255" y="91">m20</text></g>
<text class="t1" x="0" y="337">window 13</text><text class="t2" x="0" y="382">2015 – 2019</text>
</g>

<g id="window14" transform="translate(3512,1093)">
<g id="w14-connectors">
<line class="eb" x1="0" y1="-268" x2="-268" y2="0" stroke-width="8"/>
<line class="eb" x1="217" y1="-158" x2="0" y2="268" stroke-width="7"/>
<line class="eb" x1="-83" y1="255" x2="0" y2="268" stroke-width="3"/>
<line class="er" x1="255" y1="-83" x2="268" y2="0" stroke-width="6"/>
<line class="eo" x1="-83" y1="-255" x2="-217" y2="158" stroke-width="8"/>
<line class="eo" x1="-158" y1="-217" x2="255" y2="83" stroke-width="10"/>
<line class="eo" x1="0" y1="-268" x2="83" y2="255" stroke-width="8"/>
<line class="eo" x1="83" y1="-255" x2="-83" y2="255" stroke-width="9"/>
<line class="eo" x1="255" y1="-83" x2="-83" y2="255" stroke-width="10"/>
<line class="eo" x1="268" y1="0" x2="-83" y2="255" stroke-width="10"/>
<line class="eo" x1="-268" y1="0" x2="83" y2="255" stroke-width="10"/>
</g>
<g id="w14-m1" class="nb"><circle cx="268" cy="0" r="35"/><text x="268" y="8">m1</text></g>
<g id="w14-m2" class="nb"><circle cx="255" cy="-83" r="34"/><text x="255" y="-75">m2</text></g>
<g id="w14-m3" class="nb"><circle cx="217" cy="-158" r="31"/><text x="217" y="-150">m3</text></g>
<g id="w14-m4" class="nb"><circle cx="158" cy="-217" r="27"/><text x="158" y="-209">m4</text></g>
<g id="w14-m5" class="nb"><circle cx="83" cy="-255" r="29"/><text x="83" y="-247">m5</text></g>
<g id="w14-m6" class="nb"><circle cx="0" cy="-268" r="34"/><text x="0" y="-260">m6</text></g>
<g id="w14-m7" class="nb"><circle cx="-83" cy="-255" r="31"/><text x="-83" y="-247">m7</text></g>
<g id="w14-m8" class="nr"><circle cx="-158" cy="-217" r="30"/><text x="-158" y="-209">m8</text></g>
<g id="w14-m9" class="nr"><circle cx="-217" cy="-158" r="27"/><text x="-217" y="-150">m9</text></g>
<g id="w14-m10" class="nb"><circle cx="-255" cy="-83" r="27"/><text x="-255" y="-75">m10</text></g>
<g id="w14-m11" class="nb"><circle cx="-268" cy="0" r="35"/><text x="-268" y="8">m11</text></g>
<g id="w14-m12" class="nr"><circle cx="-255" cy="83" r="27"/><text x="-255" y="91">m12</text></g>
<g id="w14-m13" class="nr"><circle cx="-217" cy="158" r="29"/><text x="-217" y="166">m13</text></g>
<g id="w14-m14" class="nb"><circle cx="-158" cy="217" r="27"/><text x="-158" y="225">m14</text></g>
<g id="w14-m15" class="nr"><circle cx="-83" cy="255" r="40"/><text x="-83" y="263">m15</text></g>
<g id="w14-m16" class="nb"><circle cx="0" cy="268" r="34"/><text x="0" y="276">m16</text></g>
<g id="w14-m17" class="nr"><circle cx="83" cy="255" r="32"/><text x="83" y="263">m17</text></g>
<g id="w14-m18" class="nr"><circle cx="158" cy="217" r="27"/><text x="158" y="225">m18</text></g>
<g id="w14-m19" class="nr"><circle cx="217" cy="158" r="27"/><text x="217" y="166">m19</text></g>
<g id="w14-m20" class="nb"><circle cx="255" cy="83" r="29"/><text x="255" y="91">m20</text></g>
<text class="t1" x="0" y="337">window 14</text><text class="t2" x="0" y="382">2016 – 2020</text>
</g>

<g id="window15" transform="translate(3512,1862)">
<g id="w15-connectors">
<line class="eb" x1="-268" y1="0" x2="217" y2="-158" stroke-width="13"/>
<line class="eb" x1="-268" y1="0" x2="-158" y2="217" stroke-width="6"/>
<line class="eb" x1="217" y1="-158" x2="0" y2="268" stroke-width="9"/>
<line class="eb" x1="-83" y1="255" x2="0" y2="268" stroke-width="3"/>
<line class="er" x1="83" y1="-255" x2="268" y2="0" stroke-width="11"/>
<line class="er" x1="83" y1="-255" x2="255" y2="-83" stroke-width="8"/>
<line class="eo" x1="-83" y1="-255" x2="-217" y2="158" stroke-width="9"/>
<line class="eo" x1="-217" y1="-158" x2="-255" y2="-83" stroke-width="5"/>
<line class="eo" x1="83" y1="-255" x2="-83" y2="255" stroke-width="10"/>
<line class="eo" x1="255" y1="-83" x2="-83" y2="255" stroke-width="11"/>
<line class="eo" x1="268" y1="0" x2="-83" y2="255" stroke-width="13"/>
</g>
<g id="w15-m1" class="nb"><circle cx="268" cy="0" r="36"/><text x="268" y="8">m1</text></g>
<g id="w15-m2" class="nb"><circle cx="255" cy="-83" r="34"/><text x="255" y="-75">m2</text></g>
<g id="w15-m3" class="nb"><circle cx="217" cy="-158" r="34"/><text x="217" y="-150">m3</text></g>
<g id="w15-m4" class="nb"><circle cx="158" cy="-217" r="27"/><text x="158" y="-209">m4</text></g>
<g id="w15-m5" class="nb"><circle cx="83" cy="-255" r="37"/><text x="83" y="-247">m5</text></g>
<g id="w15-m6" class="nb"><circle cx="0" cy="-268" r="27"/><text x="0" y="-260">m6</text></g>
<g id="w15-m7" class="nb"><circle cx="-83" cy="-255" r="31"/><text x="-83" y="-247">m7</text></g>
<g id="w15-m8" class="nr"><circle cx="-158" cy="-217" r="27"/><text x="-158" y="-209">m8</text></g>
<g id="w15-m9" class="nr"><circle cx="-217" cy="-158" r="28"/><text x="-217" y="-150">m9</text></g>
<g id="w15-m10" class="nb"><circle cx="-255" cy="-83" r="29"/><text x="-255" y="-75">m10</text></g>
<g id="w15-m11" class="nb"><circle cx="-268" cy="0" r="33"/><text x="-268" y="8">m11</text></g>
<g id="w15-m12" class="nr"><circle cx="-255" cy="83" r="27"/><text x="-255" y="91">m12</text></g>
<g id="w15-m13" class="nr"><circle cx="-217" cy="158" r="29"/><text x="-217" y="166">m13</text></g>
<g id="w15-m14" class="nb"><circle cx="-158" cy="217" r="29"/><text x="-158" y="225">m14</text></g>
<g id="w15-m15" class="nr"><circle cx="-83" cy="255" r="39"/><text x="-83" y="263">m15</text></g>
<g id="w15-m16" class="nb"><circle cx="0" cy="268" r="34"/><text x="0" y="276">m16</text></g>
<g id="w15-m17" class="nr"><circle cx="83" cy="255" r="28"/><text x="83" y="263">m17</text></g>
<g id="w15-m18" class="nr"><circle cx="158" cy="217" r="27"/><text x="158" y="225">m18</text></g>
<g id="w15-m19" class="nr"><circle cx="217" cy="158" r="27"/><text x="217" y="166">m19</text></g>
<g id="w15-m20" class="nb"><circle cx="255" cy="83" r="27"/><text x="255" y="91">m20</text></g>
<text class="t1" x="0" y="337">window 15</text><text class="t2" x="0" y="382">2017 – 2021</text>
</g>

<g id="window16" transform="translate(3512,2631)">
<g id="w16-connectors">
<line class="eb" x1="-255" y1="-83" x2="-268" y2="0" stroke-width="3"/>
<line class="eb" x1="217" y1="-158" x2="0" y2="268" stroke-width="8"/>
<line class="eb" x1="-268" y1="0" x2="255" y2="83" stroke-width="14"/>
<line class="eb" x1="-217" y1="158" x2="158" y2="217" stroke-width="11"/>
<line class="eb" x1="-217" y1="158" x2="-158" y2="217" stroke-width="5"/>
<line class="eb" x1="-158" y1="217" x2="-83" y2="255" stroke-width="5"/>
<line class="eb" x1="-83" y1="255" x2="0" y2="268" stroke-width="3"/>
<line class="er" x1="-83" y1="-255" x2="0" y2="-268" stroke-width="9"/>
<line class="er" x1="0" y1="-268" x2="83" y2="-255" stroke-width="9"/>
<line class="er" x1="83" y1="-255" x2="268" y2="0" stroke-width="10"/>
<line class="eo" x1="-158" y1="-217" x2="-217" y2="-158" stroke-width="6"/>
<line class="eo" x1="-217" y1="-158" x2="-255" y2="-83" stroke-width="7"/>
<line class="eo" x1="158" y1="-217" x2="217" y2="158" stroke-width="8"/>
<line class="eo" x1="83" y1="-255" x2="-83" y2="255" stroke-width="9"/>
<line class="eo" x1="-217" y1="158" x2="83" y2="255" stroke-width="3"/>
<line class="eo" x1="0" y1="268" x2="83" y2="255" stroke-width="4"/>
<line class="eo" x1="217" y1="-158" x2="255" y2="-83" stroke-width="3"/>
</g>
<g id="w16-m1" class="nb"><circle cx="268" cy="0" r="39"/><text x="268" y="8">m1</text></g>
<g id="w16-m2" class="nb"><circle cx="255" cy="-83" r="38"/><text x="255" y="-75">m2</text></g>
<g id="w16-m3" class="nb"><circle cx="217" cy="-158" r="37"/><text x="217" y="-150">m3</text></g>
<g id="w16-m4" class="nb"><circle cx="158" cy="-217" r="30"/><text x="158" y="-209">m4</text></g>
<g id="w16-m5" class="nb"><circle cx="83" cy="-255" r="40"/><text x="83" y="-247">m5</text></g>
<g id="w16-m6" class="nb"><circle cx="0" cy="-268" r="29"/><text x="0" y="-260">m6</text></g>
<g id="w16-m7" class="nb"><circle cx="-83" cy="-255" r="30"/><text x="-83" y="-247">m7</text></g>
<g id="w16-m8" class="nr"><circle cx="-158" cy="-217" r="30"/><text x="-158" y="-209">m8</text></g>
<g id="w16-m9" class="nr"><circle cx="-217" cy="-158" r="29"/><text x="-217" y="-150">m9</text></g>
<g id="w16-m10" class="nb"><circle cx="-255" cy="-83" r="37"/><text x="-255" y="-75">m10</text></g>
<g id="w16-m11" class="nb"><circle cx="-268" cy="0" r="34"/><text x="-268" y="8">m11</text></g>
<g id="w16-m12" class="nr"><circle cx="-255" cy="83" r="27"/><text x="-255" y="91">m12</text></g>
<g id="w16-m13" class="nr"><circle cx="-217" cy="158" r="37"/><text x="-217" y="166">m13</text></g>
<g id="w16-m14" class="nb"><circle cx="-158" cy="217" r="28"/><text x="-158" y="225">m14</text></g>
<g id="w16-m15" class="nr"><circle cx="-83" cy="255" r="37"/><text x="-83" y="263">m15</text></g>
<g id="w16-m16" class="nb"><circle cx="0" cy="268" r="37"/><text x="0" y="276">m16</text></g>
<g id="w16-m17" class="nr"><circle cx="83" cy="255" r="32"/><text x="83" y="263">m17</text></g>
<g id="w16-m18" class="nr"><circle cx="158" cy="217" r="28"/><text x="158" y="225">m18</text></g>
<g id="w16-m19" class="nr"><circle cx="217" cy="158" r="29"/><text x="217" y="166">m19</text></g>
<g id="w16-m20" class="nb"><circle cx="255" cy="83" r="30"/><text x="255" y="91">m20</text></g>
<text class="t1" x="0" y="337">window 16</text><text class="t2" x="0" y="382">2018 – 2022</text>
</g>
</svg>
